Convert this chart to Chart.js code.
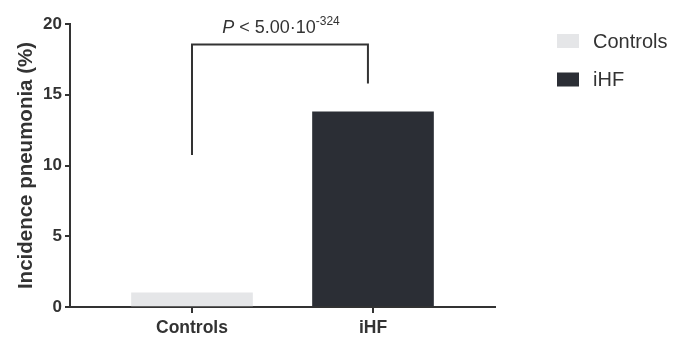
<!DOCTYPE html>
<html>
<head>
<meta charset="utf-8">
<script src="https://cdn.jsdelivr.net/npm/chart.js@4/dist/chart.umd.min.js"></script>
<style>
  html, body { margin: 0; padding: 0; background: #ffffff; }
  #wrap { width: 683px; height: 338px; position: relative; }
</style>
</head>
<body>
<div id="wrap"><canvas id="c" width="683" height="338"></canvas></div>
<script>
// ---- data ----
const categories = ['Controls', 'iHF'];
const categoryPositions = [0, 1];
const seriesLabels = ['Controls', 'iHF'];
const incidenceValues = [1.0, 13.8];
const yTickValues = [0, 5, 10, 15, 20];
const bracketX = [0, 0.972];
const bracketLegBottoms = [10.75, 15.8];
const bracketTop = 18.55;
const pMain = ' < 5.00\u00B710';
const pItalic = 'P';
const pExponent = '-324';

// ---- styles ----
const barColors = ['#e5e6e8', '#2b2e35'];
const axisColor = '#333333';
const textColor = '#333333';
const fontFamily = '"Liberation Sans", Arial, Helvetica, sans-serif';

const datasets = seriesLabels.map((lab, i) => ({
  label: lab,
  data: [{ x: categoryPositions[i], y: incidenceValues[i] }],
  backgroundColor: barColors[i],
  borderWidth: 0,
  barThickness: 121,
  grouped: false
}));

const bracketPlugin = {
  id: 'bracket',
  afterDatasetsDraw(chart) {
    const ctx = chart.ctx;
    const xs = chart.scales.x, ys = chart.scales.y;
    const x0 = xs.getPixelForValue(bracketX[0]);
    const x1 = xs.getPixelForValue(bracketX[1]);
    const yt = ys.getPixelForValue(bracketTop);
    const yb0 = ys.getPixelForValue(bracketLegBottoms[0]);
    const yb1 = ys.getPixelForValue(bracketLegBottoms[1]);
    ctx.save();
    ctx.strokeStyle = axisColor;
    ctx.lineWidth = 2;
    ctx.lineJoin = 'miter';
    ctx.beginPath();
    ctx.moveTo(x0, yb0);
    ctx.lineTo(x0, yt);
    ctx.lineTo(x1, yt);
    ctx.lineTo(x1, yb1);
    ctx.stroke();
    // p-value text
    const fMainI = 'italic 18px ' + fontFamily;
    const fMain = '18px ' + fontFamily;
    const fSup = '12px ' + fontFamily;
    ctx.font = fMainI; const wI = ctx.measureText(pItalic).width;
    ctx.font = fMain; const wM = ctx.measureText(pMain).width;
    ctx.font = fSup; const wS = ctx.measureText(pExponent).width;
    const total = wI + wM + wS;
    let cx = (x0 + x1) / 2 - total / 2 + 1;
    const baseY = yt - 12;
    ctx.fillStyle = textColor;
    ctx.textBaseline = 'alphabetic';
    ctx.textAlign = 'left';
    ctx.font = fMainI; ctx.fillText(pItalic, cx, baseY); cx += wI;
    ctx.font = fMain; ctx.fillText(pMain, cx, baseY); cx += wM;
    ctx.font = fSup; ctx.fillText(pExponent, cx, baseY - 8);
    ctx.restore();
  }
};

const legendPlugin = {
  id: 'sideLegend',
  afterDraw(chart) {
    const ctx = chart.ctx;
    ctx.save();
    const startY = 41, step = 38.5;
    chart.data.datasets.forEach((ds, i) => {
      const cy = startY + i * step;
      ctx.fillStyle = ds.backgroundColor;
      ctx.fillRect(557, cy - 7, 22, 14);
      ctx.fillStyle = textColor;
      ctx.font = '20px ' + fontFamily;
      ctx.textBaseline = 'middle';
      ctx.textAlign = 'left';
      ctx.fillText(ds.label, 593, cy + 1);
    });
    ctx.restore();
  }
};

new Chart(document.getElementById('c'), {
  type: 'bar',
  data: { datasets },
  plugins: [bracketPlugin, legendPlugin],
  options: {
    responsive: false,
    animation: false,
    devicePixelRatio: 1,
    layout: { padding: { left: 0, right: 188, top: 24, bottom: 0 } },
    plugins: { legend: { display: false }, tooltip: { enabled: false } },
    scales: {
      x: {
        type: 'linear',
        offset: false,
        min: -0.674,
        max: 1.674,
        afterBuildTicks(scale) { scale.ticks = categoryPositions.map(v => ({ value: v })); },
        afterFit(scale) { scale.height = 31; },
        ticks: {
          callback: (v) => categories[categoryPositions.indexOf(v)] ?? '',
          color: textColor,
          font: { family: fontFamily, size: 17.5, weight: 'bold' },
          padding: 5,
          maxRotation: 0
        },
        grid: { offset: false, drawOnChartArea: false, drawTicks: true, tickLength: 6, color: axisColor, lineWidth: 2 },
        border: { display: true, color: axisColor, width: 2 }
      },
      y: {
        min: 0,
        max: 20,
        afterBuildTicks(scale) { scale.ticks = yTickValues.map(v => ({ value: v })); },
        afterFit(scale) { scale.width = 70; },
        ticks: {
          color: textColor,
          font: { family: fontFamily, size: 17, weight: 'bold' },
          padding: 3
        },
        grid: { drawOnChartArea: false, drawTicks: true, tickLength: 5, color: axisColor, lineWidth: 2 },
        border: { display: true, color: axisColor, width: 2 },
        title: {
          display: true,
          text: 'Incidence pneumonia (%)',
          color: textColor,
          font: { family: fontFamily, size: 20.5, weight: 'bold' },
          padding: { top: 14, bottom: 0 }
        }
      }
    }
  }
});
</script>
</body>
</html>
